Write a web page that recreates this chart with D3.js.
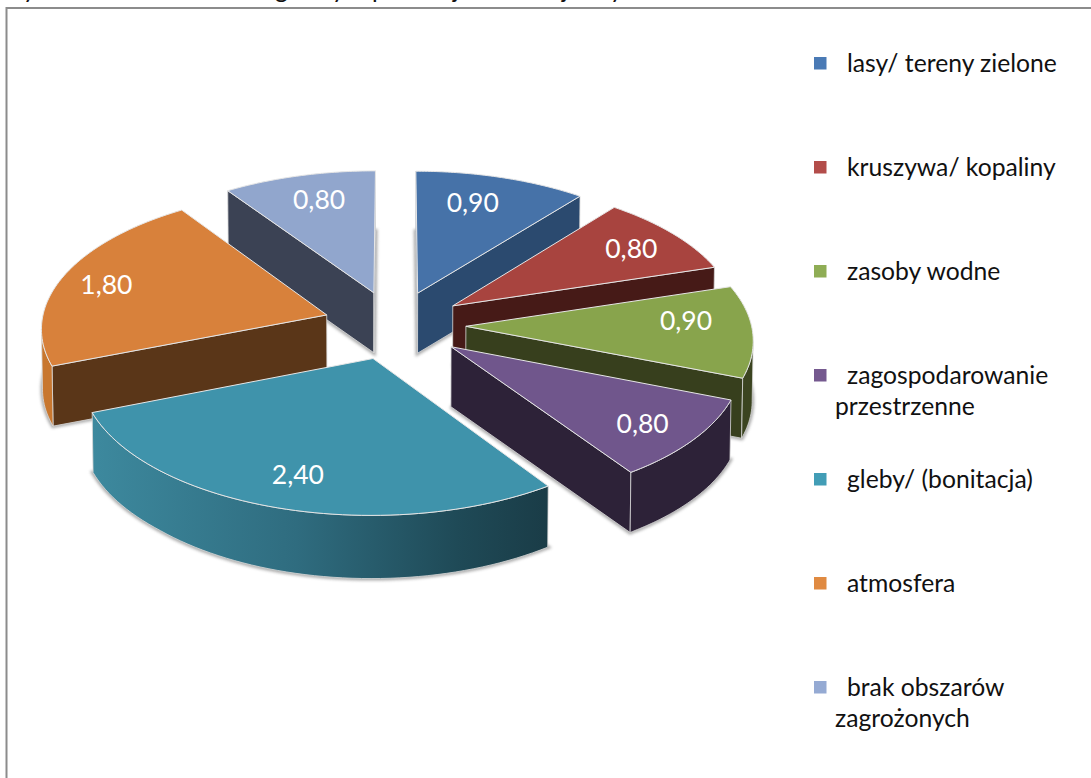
<!DOCTYPE html>
<html><head><meta charset="utf-8">
<script src="https://cdn.jsdelivr.net/npm/d3@7"></script>
<style>html,body{margin:0;padding:0;background:#fff;overflow:hidden}svg{display:block}text{font-family:Lato,"Open Sans",sans-serif}</style>
</head><body><svg id="c" width="1091" height="778"></svg>
<script>
const categories = ["lasy/ tereny zielone","kruszywa/ kopaliny","zasoby wodne","zagospodarowanie","gleby/ (bonitacja)","atmosfera","brak obszarów"];
const secondLines = ["","","","przestrzenne","","","zagrożonych"];
const values = [0.9,0.8,0.9,0.8,2.4,1.8,0.8];
const valueLabels = ["0,90","0,80","0,90","0,80","2,40","1,80","0,80"];
const topColors = ["#4672a8","#a8443f","#88a44c","#70568c","#3f93ab","#d8813b","#91a6cd"];
const sideColors = ["#2b4a6f","#461a17","#373f1d","#2d2238","#1b3e49","#5a3618","#3b4254"];
const wallColors = ["#2b4a6f","#461a17","#3b4420","#2d2238","url(#tealWall)","#c8772f","#3b4254"];
const legendColors = ["#4a7ab5","#b34d4a","#8fad55","#75598f","#429db6","#e08a41","#95aad3"];
const titleTails = ["y","g","y","p","j","j","y"];

// layout of the projected pie
const CX=394.5, CY=325, SX=285.5, SY=137.5, P=0.085, EXPLODE=0.25, DEPTH=60;
const LABEL_R=0.8;
const labelNudge=[[-13,3.5],[1,1],[-9,-10],[0,3],[0,-1],[-9,1],[6,2]];
const TAIL_X=[23,275,332,372,453,562,610];

const svg=d3.select("#c");
const defs=svg.append("defs");
const g=defs.append("linearGradient").attr("id","tealWall");
[[0,"#3d899e"],[0.45,"#2f6c7f"],[0.8,"#1f4a57"],[1,"#1a3c47"]].forEach(s=>g.append("stop").attr("offset",s[0]).attr("stop-color",s[1]));
defs.append("filter").attr("id","soft").attr("x","-10%").attr("y","-10%").attr("width","120%").attr("height","120%")
  .append("feGaussianBlur").attr("stdDeviation",1.6);

// page furniture
svg.append("path").attr("d","M6.5 778V8H1091").attr("fill","none").attr("stroke","#8c8c8c").attr("stroke-width",2);
svg.selectAll("text.tail").data(titleTails).join("text").attr("class","tail")
  .attr("x",(d,i)=>TAIL_X[i]).attr("y",-2).attr("font-size",24.7).attr("fill","#111").text(d=>d);

// pie geometry
const pie=d3.pie().sort(null).value(d=>d);
const arcs=pie(values);
const project=(u,v)=>{const w=1+P*v;return [CX+SX*u/w,CY-SY*v/w];};
const lower=p=>[CX+(p[0]-CX)*0.997,p[1]+DEPTH+Math.max(0,p[1]-CY-145)*0.07];
const line=d3.line();

const slices=arcs.map((a,i)=>{
  const mid=(a.startAngle+a.endAngle)/2;
  const ou=EXPLODE*Math.sin(mid), ov=EXPLODE*Math.cos(mid);
  const at=(t,r)=>project(ou+r*Math.sin(t),ov+r*Math.cos(t));
  const ts=d3.range(0,61).map(k=>a.startAngle+(a.endAngle-a.startAngle)*k/60);
  const arcPts=ts.map(t=>at(t,1));
  return {i,mid,apex:at(0,0),arcPts,label:at(mid,LABEL_R)};
});

const order=slices.slice().sort((a,b)=>a.apex[1]-b.apex[1]);
const root=svg.append("g");
order.forEach(s=>{
  const i=s.i, gs=root.append("g");
  const outline=[s.apex,...s.arcPts];
  // soft shadow of the bottom face
  gs.append("path").attr("d",line(outline.map(lower))+"Z").attr("fill","#666").attr("stroke","#666")
    .attr("stroke-width",4).attr("opacity",.55).attr("filter","url(#soft)");
  const face=(pts,fill)=>gs.append("path").attr("d",line([...pts,...pts.slice().reverse().map(lower)])+"Z")
    .attr("fill",fill).attr("stroke","#d9d9d9").attr("stroke-width",.8).attr("stroke-linejoin","round");
  const start=s.arcPts[0], end=s.arcPts[s.arcPts.length-1];
  if(start[0]<s.apex[0]) face([s.apex,start],sideColors[i]);
  if(s.apex[0]<end[0]) face([end,s.apex],sideColors[i]);
  // outer wall: the part of the rim running leftwards on screen faces the viewer
  const pts=s.arcPts;
  const front=pts.filter((p,k)=>(k>0&&p[0]<pts[k-1][0])||(k<pts.length-1&&pts[k+1][0]<p[0]));
  if(front.length>1) face(front,wallColors[i]);
  gs.append("path").attr("d",line(outline)+"Z").attr("fill",topColors[i])
    .attr("stroke","#e6e6e6").attr("stroke-width",1).attr("stroke-linejoin","round");
});

// value labels
svg.selectAll("text.val").data(slices).join("text").attr("class","val")
  .attr("x",d=>d.label[0]+labelNudge[d.i][0]).attr("y",d=>d.label[1]+labelNudge[d.i][1]+9.5)
  .attr("text-anchor","middle").attr("font-size",26.5).attr("fill","#fff").text(d=>valueLabels[d.i]);

// legend
const legendY=d3.scalePoint().domain(d3.range(categories.length)).range([63,687]);
const lg=svg.selectAll("g.leg").data(categories).join("g").attr("class","leg");
lg.append("rect").attr("x",814).attr("y",(d,i)=>legendY(i)-6).attr("width",12.5).attr("height",12.5)
  .attr("fill",(d,i)=>legendColors[i]);
lg.append("text").attr("x",847).attr("y",(d,i)=>legendY(i)+9).attr("font-size",24.7).attr("fill","#111").text(d=>d);
lg.append("text").attr("x",835).attr("y",(d,i)=>legendY(i)+40).attr("font-size",24.7).attr("fill","#111").text((d,i)=>secondLines[i]);
</script></body></html>
